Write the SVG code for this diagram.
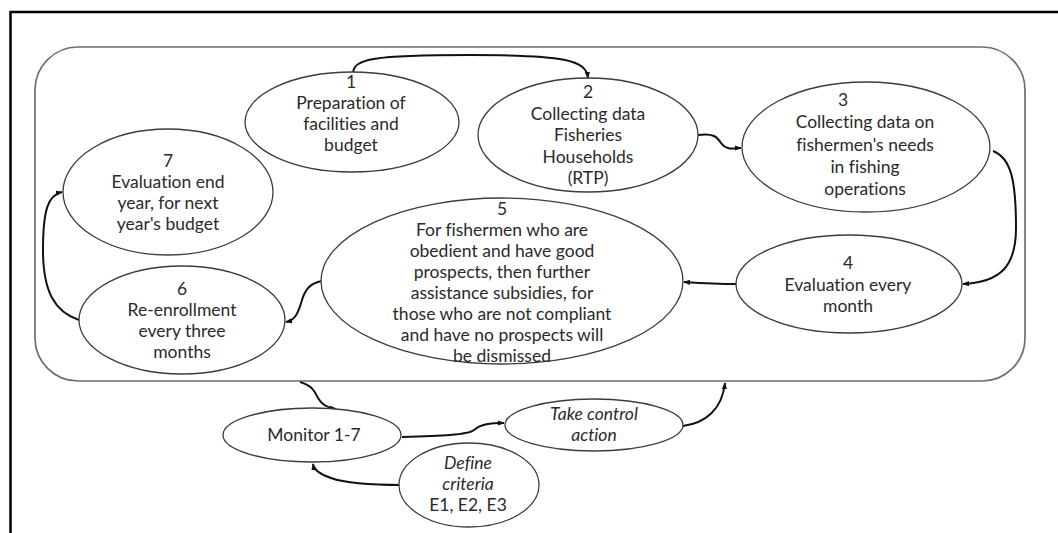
<svg xmlns="http://www.w3.org/2000/svg" width="1058" height="533" viewBox="0 0 1058 533">
  <defs>
    <style>
      .node ellipse { fill: #ffffff; stroke: #3c3c3c; stroke-width: 1.3; }
      .node text { font-family: Lato, "Open Sans", sans-serif; font-size: 17.5px; fill: #2a2a2a; text-anchor: middle; font-variant-ligatures: none; }
      .node text.it { font-style: italic; }
      .conn path { fill: none; stroke: #111111; stroke-width: 2; marker-end: url(#arrow); }
      .panel { fill: none; stroke: #6e6e6e; stroke-width: 1.7; }
      .frame { fill: none; stroke: #000000; stroke-width: 2.5; }
    </style>
    <marker id="arrow" viewBox="0 0 8 6" refX="7" refY="3" markerWidth="7" markerHeight="5.5" markerUnits="userSpaceOnUse" orient="auto">
      <path d="M0,0 L8,3 L0,6 z" fill="#111111"/>
    </marker>
  </defs>

  <rect width="1058" height="533" fill="#ffffff"/>

  <!-- page frame (open on the right and bottom) -->
  <path class="frame" d="M10.5,533 V12 H1058"/>

  <!-- process panel -->
  <rect id="panel" class="panel" x="35" y="47" width="990" height="334" rx="43" ry="43"/>

  <!-- connectors -->
  <g id="connectors" class="conn">
    <path d="M353,73 C354,59 372,55 470,55 C565,55 586,60 588,78"/>
    <path d="M698,135 C714,133 717,137 721,143 C727,151 734,148 741,148"/>
    <path d="M993,151 C1011,158 1016,180 1016,228 C1016,266 1001,282 963,284"/>
    <path d="M736,284 C718,284 700,283 684,282"/>
    <path d="M322,281 C310,283 305,290 302,300 C298,314 295,320 286,322"/>
    <path d="M79,320 C55,312 43,292 43,250 C43,210 48,195 62,192"/>
    <path d="M300,382 C313,386 315,392 318,398 C322,405 328,408 336,409"/>
    <path d="M402,437 C440,436 468,435 474,430 C481,424 490,423 504,423"/>
    <path d="M683,426 C705,423 722,410 725,383"/>
    <path d="M402,485 C368,485 345,483 331,478 C319,474 314,470 313,464"/>
  </g>

  <g id="n1" class="node">
    <ellipse cx="352" cy="122" rx="107" ry="50"/>
    <text x="351" y="88">1</text>
    <text x="351" y="109">Preparation of</text>
    <text x="351" y="130">facilities and</text>
    <text x="351" y="151">budget</text>
  </g>

  <g id="n2" class="node">
    <ellipse cx="588" cy="135" rx="110" ry="57"/>
    <text x="588" y="98">2</text>
    <text x="588" y="120">Collecting data</text>
    <text x="588" y="141">Fisheries</text>
    <text x="588" y="163">Households</text>
    <text x="588" y="184">(RTP)</text>
  </g>

  <g id="n3" class="node">
    <ellipse cx="866" cy="147" rx="124" ry="65"/>
    <text x="843" y="106">3</text>
    <text x="865" y="128">Collecting data on</text>
    <text x="865" y="151">fishermen's needs</text>
    <text x="865" y="173">in fishing</text>
    <text x="865" y="195">operations</text>
  </g>

  <g id="n4" class="node">
    <ellipse cx="849" cy="284" rx="113" ry="49"/>
    <text x="848" y="269">4</text>
    <text x="848" y="291">Evaluation every</text>
    <text x="848" y="312">month</text>
  </g>

  <g id="n5" class="node">
    <ellipse cx="502" cy="281" rx="181" ry="83"/>
    <text x="502" y="215">5</text>
    <text x="502" y="236">For fishermen who are</text>
    <text x="502" y="257">obedient and have good</text>
    <text x="502" y="278">prospects, then further</text>
    <text x="502" y="299">assistance subsidies, for</text>
    <text x="502" y="320">those who are not compliant</text>
    <text x="502" y="341">and have no prospects will</text>
    <text x="502" y="362">be dismissed</text>
  </g>

  <g id="n6" class="node">
    <ellipse cx="182" cy="320" rx="103" ry="54"/>
    <text x="182" y="295">6</text>
    <text x="182" y="316">Re-enrollment</text>
    <text x="182" y="337">every three</text>
    <text x="182" y="358">months</text>
  </g>

  <g id="n7" class="node">
    <ellipse cx="168" cy="192" rx="105" ry="63"/>
    <text x="168" y="167">7</text>
    <text x="168" y="188">Evaluation end</text>
    <text x="168" y="209">year, for next</text>
    <text x="168" y="230">year's budget</text>
  </g>

  <g id="monitor" class="node">
    <ellipse cx="312" cy="435" rx="89" ry="27"/>
    <text x="314" y="441">Monitor 1-7</text>
  </g>

  <g id="control" class="node">
    <ellipse cx="594" cy="425" rx="89" ry="26"/>
    <text class="it" x="594" y="420">Take control</text>
    <text class="it" x="594" y="441">action</text>
  </g>

  <g id="criteria" class="node">
    <ellipse cx="469" cy="485" rx="70" ry="42"/>
    <text class="it" x="468" y="469">Define</text>
    <text class="it" x="468" y="490">criteria</text>
    <text x="468" y="511">E1, E2, E3</text>
  </g>
</svg>
